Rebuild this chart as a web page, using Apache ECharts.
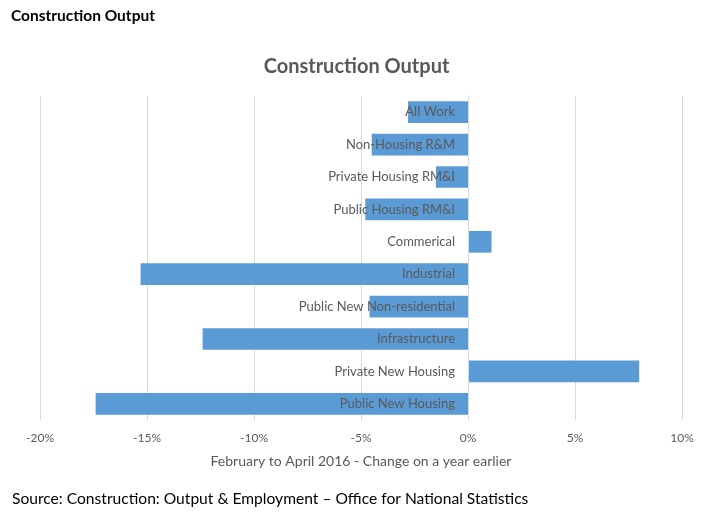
<!DOCTYPE html>
<html>
<head>
<meta charset="utf-8">
<script src="https://cdn.jsdelivr.net/npm/echarts@6/dist/echarts.min.js"></script>
<style>
html,body{margin:0;padding:0;background:#fff;}
#c{width:713px;height:517px;}
</style>
</head>
<body>
<div id="c"></div>
<script>
const categories = ["All Work","Non-Housing R&M","Private Housing RM&I","Public Housing RM&I","Commerical","Industrial","Public New Non-residential","Infrastructure","Private New Housing","Public New Housing"];
const values = [-2.8, -4.5, -1.5, -4.8, 1.1, -15.3, -4.6, -12.4, 8.0, -17.4];
const xTicks = {min: -20, max: 10, interval: 5};

const W = 713, gridLeft = 40, gridRight = 31;
const zeroOffset = (W - gridLeft - gridRight) * (0 - xTicks.min) / (xTicks.max - xTicks.min);

const chart = echarts.init(document.getElementById('c'));
const font = 'Lato, "Open Sans", sans-serif';
chart.setOption({
  animation: false,
  textStyle: {fontFamily: font},
  graphic: [
    {type: 'text', left: 11, top: 8, style: {text: 'Construction Output', font: 'bold 15.5px ' + font, fill: '#000'}},
    {type: 'text', left: 12, top: 491, style: {text: 'Source: Construction: Output & Employment \u2013 Office for National Statistics', font: '15.6px ' + font, fill: '#000'}}
  ],
  title: {
    text: 'Construction Output', left: 'center', top: 52,
    textStyle: {fontFamily: font, fontSize: 20, fontWeight: 'bold', color: '#595959'}
  },
  grid: {left: gridLeft, right: gridRight, top: 96, bottom: 97, containLabel: false, outerBoundsMode: 'none'},
  xAxis: {
    type: 'value', min: xTicks.min, max: xTicks.max, interval: xTicks.interval,
    axisLine: {show: false}, axisTick: {show: false},
    axisLabel: {formatter: '{value}%', color: '#595959', fontSize: 12, margin: 12, fontFamily: font},
    splitLine: {lineStyle: {color: '#d9d9d9', width: 1}},
    name: 'February to April 2016 - Change on a year earlier',
    nameLocation: 'middle', nameGap: 34,
    nameTextStyle: {color: '#595959', fontSize: 14, fontFamily: font}
  },
  yAxis: {
    type: 'category', data: categories, inverse: true, z: 5,
    offset: -zeroOffset,
    axisLine: {onZero: false, lineStyle: {color: '#d9d9d9'}},
    axisTick: {show: false},
    axisLabel: {color: '#595959', fontSize: 13, margin: 13, fontFamily: font}
  },
  series: [{
    type: 'bar', data: values, barCategoryGap: '33%',
    itemStyle: {color: '#5B9BD5'}
  }]
});
</script>
</body>
</html>
